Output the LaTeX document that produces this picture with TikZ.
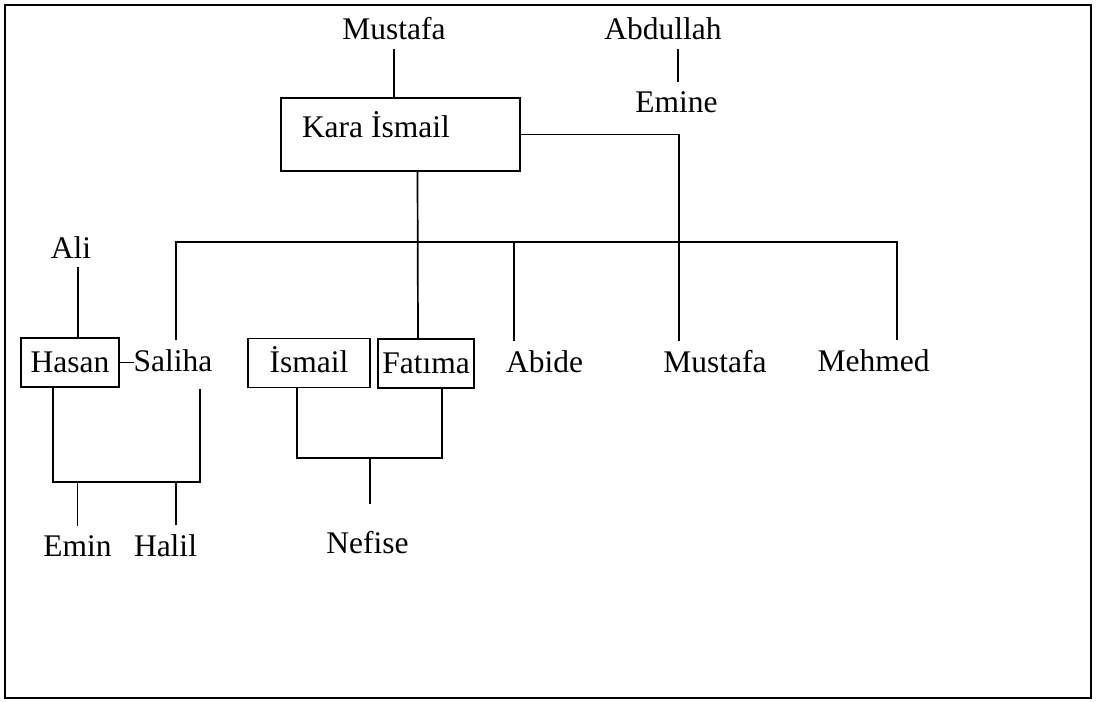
\documentclass[tikz,border=0pt]{standalone}
\usepackage{fontspec}
\setmainfont{Liberation Serif}

\begin{document}
\begin{tikzpicture}[x=1pt,y=-1pt,line width=1.7pt,font=\fontsize{31.5}{38}\selectfont,
person/.style={inner sep=8pt,anchor=base},
famebox/.style={draw,inner sep=0pt,text height=22pt,text depth=3pt}]
\useasboundingbox (0,0) rectangle (1102,701);
\draw (5,5) rectangle (1091,698);
\foreach \n/\t/\x/\y in %
{must/Mustafa/394/40, abd/Abdullah/663/40, emine/Emine/676.5/112,
 ali/Ali/71/258, saliha/Saliha/173/371, abide/Abide/544.5/372,
 mustb/Mustafa/715/372, mehmed/Mehmed/873.5/371,
 emin/Emin/77.5/556, halil/Halil/165.5/556, nefise/Nefise/367.5/553} {
   \node[person] (\n) at (\x,\y) {\t};
}
\node[famebox,minimum width=239pt,minimum height=73pt] (kara) at (400.5,134.5) {};
\node[person,anchor=text] (karatxt) at (302,137) {Kara İsmail};
\node[famebox,minimum width=98pt,minimum height=49pt] (hasan) at (70,362.5) {Hasan};
\node[famebox,minimum width=122pt,minimum height=49pt] (ismail) at (309,363) {İsmail};
\node[famebox,minimum width=96pt,minimum height=49pt] (fatima) at (426,363.5) {Fatıma};
\coordinate (bus) at (0,242);
\coordinate (fam1) at (0,482);
\coordinate (fam2) at (0,458);
\draw (must.south) -- (must.south |- kara.north);
\draw ([xshift=1.5pt]abd.south -| emine.north) -- ([xshift=1.5pt]emine.north);
\draw (kara.east) -| ([xshift=-36pt]mustb.north);
\draw ([xshift=17pt]kara.south) -- ([xshift=-8pt]fatima.north);
\draw ([xshift=3pt]saliha.north) |- ([xshift=23.5pt]mehmed.north |- bus) -- ([xshift=23.5pt]mehmed.north);
\draw ([xshift=-30.5pt]abide.north) -- ([xshift=-30.5pt]abide.north |- bus);
\draw ([xshift=7pt]ali.south) -- ([xshift=7pt]ali.south |- hasan.north);
\draw (hasan.east) -- (hasan.east -| saliha.text);
\draw ([xshift=-17pt]hasan.south) |- ([xshift=27pt]saliha.south |- fam1) -- ([xshift=27pt,yshift=-9pt]saliha.south);
\draw (emin.north) -- (emin.north |- fam1);
\draw ([xshift=10.5pt]halil.north) -- ([xshift=10.5pt]halil.north |- fam1);
\draw ([xshift=-12pt]ismail.south) |- ([xshift=16pt]fatima.south |- fam2) -- ([xshift=16pt]fatima.south);
\draw ([xshift=2.5pt,yshift=18pt]nefise.north) -- ([xshift=2.5pt]nefise.north |- fam2);
\end{tikzpicture}
\end{document}
